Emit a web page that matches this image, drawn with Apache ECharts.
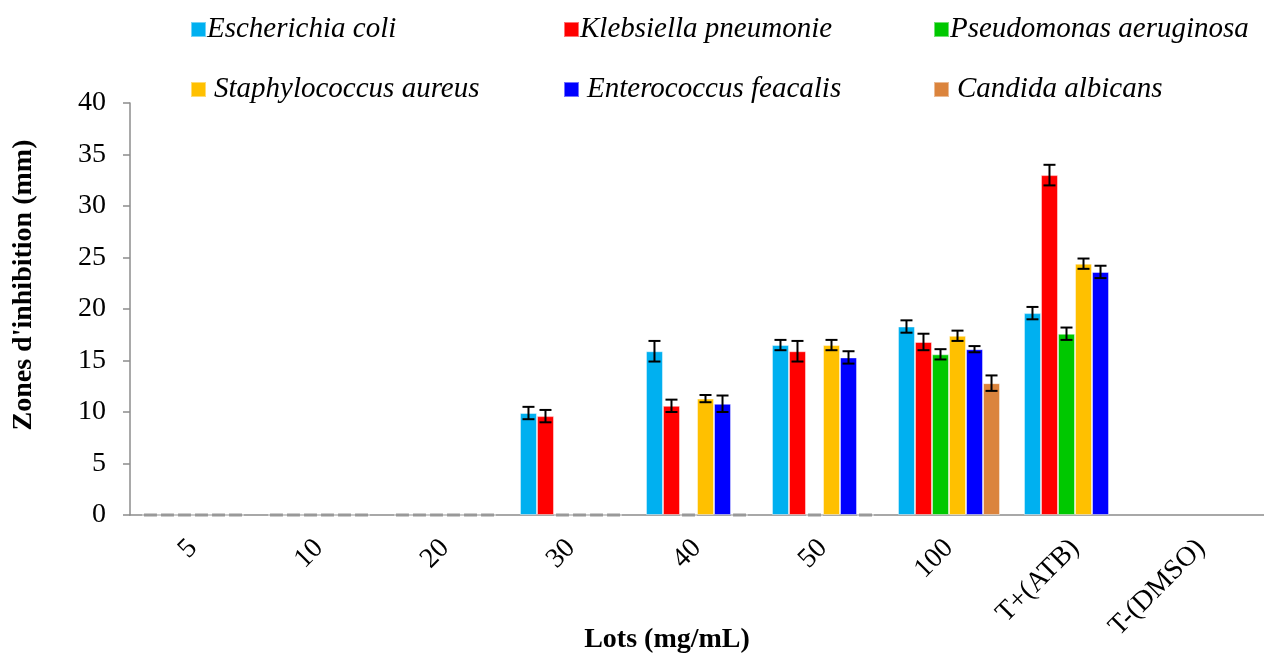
<!DOCTYPE html>
<html>
<head>
<meta charset="utf-8">
<script src="https://cdn.jsdelivr.net/npm/echarts@6/dist/echarts.min.js"></script>
<style>html,body{margin:0;padding:0;background:#fff}#c{width:1264px;height:657px}</style>
</head>
<body>
<div id="c"></div>
<script>
const categories = ['5', '10', '20', '30', '40', '50', '100', 'T+(ATB)', 'T-(DMSO)'];
const seriesNames = ['Escherichia coli', 'Klebsiella pneumonie', 'Pseudomonas aeruginosa', 'Staphylococcus aureus', 'Enterococcus feacalis', 'Candida albicans'];
const ecoli    = [0, 0, 0, 9.9, 15.9, 16.5, 18.3, 19.6, null];
const kleb     = [0, 0, 0, 9.6, 10.6, 15.9, 16.8, 33.0, null];
const pseudo   = [0, 0, 0, 0, 0, 0, 15.6, 17.6, null];
const staph    = [0, 0, 0, 0, 11.3, 16.5, 17.4, 24.4, null];
const entero   = [0, 0, 0, 0, 10.8, 15.3, 16.1, 23.6, null];
const candida  = [0, 0, 0, 0, 0, 0, 12.8, null, null];
const errEcoli   = [0, 0, 0, 0.6, 1.0, 0.5, 0.6, 0.6, null];
const errKleb    = [0, 0, 0, 0.6, 0.6, 1.0, 0.8, 1.0, null];
const errPseudo  = [0, 0, 0, 0, 0, 0, 0.5, 0.6, null];
const errStaph   = [0, 0, 0, 0, 0.35, 0.5, 0.5, 0.5, null];
const errEntero  = [0, 0, 0, 0, 0.8, 0.6, 0.3, 0.6, null];
const errCandida = [0, 0, 0, 0, 0, 0, 0.75, null, null];
const yTicks = {min: 0, max: 40, interval: 5};
const xTitle = 'Lots (mg/mL)';
const yTitle = "Zones d'inhibition (mm)";

const values = [ecoli, kleb, pseudo, staph, entero, candida];
const errors = [errEcoli, errKleb, errPseudo, errStaph, errEntero, errCandida];
const colors = ['#00B0F0', '#FF0000', '#00C800', '#FFC000', '#0000FF', '#DB843D'];
const FONT = 'Liberation Serif';
const CAT_GAP = 0.19;

const barSeries = seriesNames.map((n, i) => ({
  name: n, type: 'bar', data: values[i],
  barGap: '0%', barCategoryGap: (CAT_GAP * 100) + '%',
  itemStyle: {color: colors[i], borderColor: 'rgba(255,255,255,0.45)', borderWidth: 1},
  emphasis: {disabled: true}
}));

const errData = [];
values.forEach((arr, si) => arr.forEach((v, ci) => {
  if (v !== null) errData.push([ci, v, errors[si][ci], si]);
}));

const errSeries = {
  type: 'custom', name: 'err', z: 10, silent: true,
  data: errData,
  encode: {x: 0, y: 1},
  renderItem: function (params, api) {
    const ci = api.value(0), v = api.value(1), e = api.value(2), si = api.value(3);
    const catW = api.size([1, 0])[0];
    const bw = catW * (1 - CAT_GAP) / 6;
    const base = api.coord([ci, 0]);
    const cx = base[0] + (si - 2.5) * bw;
    if (v === 0) {
      return {type: 'rect', shape: {x: cx - bw * 0.38, y: base[1] - 1.5, width: bw * 0.76, height: 3},
        style: {fill: '#999999'}};
    }
    const top = api.coord([ci, v + e])[1];
    const bot = api.coord([ci, v - e])[1];
    const hw = 6;
    const st = {stroke: '#000', lineWidth: 2};
    return {type: 'group', children: [
      {type: 'line', shape: {x1: cx, y1: top, x2: cx, y2: bot}, style: st},
      {type: 'line', shape: {x1: cx - hw, y1: top, x2: cx + hw, y2: top}, style: st},
      {type: 'line', shape: {x1: cx - hw, y1: bot, x2: cx + hw, y2: bot}, style: st}
    ]};
  }
};

const legendPos = [
  {left: 190, top: 15}, {left: 563, top: 15}, {left: 933, top: 15},
  {left: 190, top: 75}, {left: 563, top: 75}, {left: 933, top: 75}
];
const legendPad = [1, 1, 1, 8, 8, 8];
const legends = seriesNames.map((n, i) => ({
  data: [n], left: legendPos[i].left, top: legendPos[i].top, padding: 0,
  itemWidth: 15, itemHeight: 15, itemGap: 0, icon: 'rect', selectedMode: false,
  textStyle: {fontFamily: FONT, fontStyle: 'italic', fontSize: 29, lineHeight: 28, color: '#000',
    padding: [0, 0, 0, legendPad[i] - 5]}
}));

const chart = echarts.init(document.getElementById('c'), null, {renderer: 'canvas'});
chart.setOption({
  animation: false,
  backgroundColor: '#fff',
  legend: legends,
  grid: {left: 130, top: 103, width: 1143, height: 412, containLabel: false},
  xAxis: {
    type: 'category', data: categories,
    axisLine: {lineStyle: {color: '#8c8c8c', width: 1.5}},
    axisTick: {alignWithLabel: false, length: 8, lineStyle: {color: '#8c8c8c', width: 1.5}},
    axisLabel: {rotate: 45, interval: 0, margin: 29, fontFamily: FONT, fontSize: 28, color: '#000'}
  },
  yAxis: {
    type: 'value', min: yTicks.min, max: yTicks.max, interval: yTicks.interval,
    axisLine: {show: true, lineStyle: {color: '#8c8c8c', width: 1.5}},
    axisTick: {show: true, length: 7, lineStyle: {color: '#8c8c8c', width: 1.5}},
    splitLine: {show: false},
    axisLabel: {margin: 24, fontFamily: FONT, fontSize: 28, color: '#000'}
  },
  graphic: [
    {type: 'text', x: 667, y: 640, style: {text: xTitle, font: 'bold 28px "Liberation Serif"', fill: '#000',
      align: 'center', verticalAlign: 'middle'}},
    {type: 'text', x: 24, y: 285, rotation: Math.PI / 2, style: {text: yTitle, font: 'bold 28px "Liberation Serif"',
      fill: '#000', align: 'center', verticalAlign: 'middle'}}
  ],
  series: barSeries.concat([errSeries])
});
</script>
</body>
</html>
